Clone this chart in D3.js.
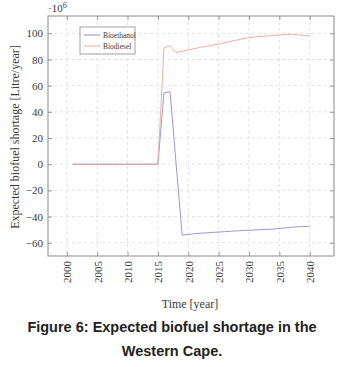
<!DOCTYPE html>
<html>
<head>
<meta charset="utf-8">
<script src="https://cdn.jsdelivr.net/npm/d3@7"></script>
<style>
  body { margin: 0; background: #fff; }
  svg text { fill: #3a3a3a; }
</style>
</head>
<body>
<svg id="chart"></svg>
<script>
var width = 338; // whole picture
var height = 367;
var margin = { top: 16, right: 4, bottom: 111, left: 48 };
var plotW = width - margin.left - margin.right;
var plotH = height - margin.top - margin.bottom;

// years of the series
var years = d3.range(2001, 2041);

// values in 10^6 litre/year
var bioethanol = [0, 0, 0, 0, 0, 0, 0, 0, 0, 0, 0, 0, 0, 0, 0,
  54.5, 55.3, 0, -54.2, -53.6, -53.1, -52.7, -52.4, -52.1, -51.8, -51.5,
  -51.2, -50.9, -50.6, -50.4, -50.2, -50.0, -49.8, -49.5, -49.1,
  -48.6, -48.1, -47.8, -47.6, -47.3];
var biodiesel = [0, 0, 0, 0, 0, 0, 0, 0, 0, 0, 0, 0, 0, 0, 0,
  88.8, 90.5, 85.2, 86.3, 87.3, 88.3, 89.2, 90.0, 90.9, 91.8, 92.8,
  93.8, 94.8, 95.8, 96.6, 97.2, 97.6, 98.0, 98.3, 98.7,
  99.1, 99.3, 98.9, 98.3, 97.8];

var xTicks = [2000, 2005, 2010, 2015, 2020, 2025, 2030, 2035, 2040];
var yTicks = [-60, -40, -20, 0, 20, 40, 60, 80, 100];

var series = [
  { name: "Bioethanol", values: bioethanol, color: "#8d8dd0" },
  { name: "Biodiesel", values: biodiesel, color: "#f2a497" }
];

var svg = d3.select("#chart")
  .attr("width", width)
  .attr("height", height);

var g = svg.append("g")
  .attr("transform", "translate(" + margin.left + "," + margin.top + ")");

var x = d3.scaleLinear().domain([1996.9, 2044.0]).range([0, plotW]);
var y = d3.scaleLinear().domain([-70.1, 113.2]).range([plotH, 0]);

// grid lines, dashed
g.append("g")
  .selectAll("line.vg")
  .data(xTicks)
  .enter().append("line")
  .attr("x1", d => x(d)).attr("x2", d => x(d))
  .attr("y1", 0).attr("y2", plotH)
  .attr("stroke", "#e2e2e2").attr("stroke-dasharray", "3 3");
g.append("g")
  .selectAll("line.hg")
  .data(yTicks)
  .enter().append("line")
  .attr("y1", d => y(d)).attr("y2", d => y(d))
  .attr("x1", 0).attr("x2", plotW)
  .attr("stroke", "#e2e2e2").attr("stroke-dasharray", "3 3");

// axes (ticks inward, pgfplots style)
var fontSerif = "'Liberation Serif', 'DejaVu Serif', serif";

var xAxis = g.append("g")
  .attr("transform", "translate(0," + plotH + ")")
  .call(d3.axisBottom(x).tickValues(xTicks).tickFormat(d3.format("d")).tickSize(-4).tickSizeOuter(0));
xAxis.selectAll("text")
  .attr("transform", "rotate(-90)")
  .attr("text-anchor", "end")
  .attr("x", -5).attr("y", 0).attr("dy", "0.35em")
  .style("font-family", fontSerif).style("font-size", "11px");

var yAxis = g.append("g")
  .call(d3.axisLeft(y).tickValues(yTicks).tickFormat(d => d < 0 ? "\u2212" + Math.abs(d) : d).tickSize(-4).tickSizeOuter(0));
yAxis.selectAll("text")
  .attr("x", -5)
  .style("font-family", fontSerif).style("font-size", "11px");

g.append("g")
  .attr("transform", "translate(" + plotW + ",0)")
  .call(d3.axisRight(y).tickValues(yTicks).tickFormat("").tickSize(-4).tickSizeOuter(0));
g.append("g")
  .call(d3.axisTop(x).tickValues(xTicks).tickFormat("").tickSize(-4).tickSizeOuter(0));

g.selectAll(".domain").attr("stroke", "none");
g.selectAll(".tick line").attr("stroke", "#9a9a9a");

// frame
g.append("rect")
  .attr("width", plotW).attr("height", plotH)
  .attr("fill", "none").attr("stroke", "#8a8a8a").attr("stroke-width", 1);

// the lines
var line = d3.line()
  .x((d, i) => x(years[i]))
  .y(d => y(d));

g.selectAll(".series")
  .data(series)
  .enter().append("path")
  .attr("class", "series")
  .attr("d", d => line(d.values))
  .attr("fill", "none")
  .attr("stroke", d => d.color)
  .attr("stroke-width", 0.9);

// legend
var legend = g.append("g").attr("transform", "translate(32,11)");
legend.append("rect")
  .attr("width", 55).attr("height", 27)
  .attr("fill", "#fff").attr("stroke", "#8a8a8a").attr("stroke-width", 0.8);
var li = legend.selectAll(".li")
  .data(series)
  .enter().append("g")
  .attr("transform", (d, i) => "translate(0," + (8 + i * 11) + ")");
li.append("line")
  .attr("x1", 4).attr("x2", 20)
  .attr("stroke", d => d.color).attr("stroke-width", 1);
li.append("text")
  .attr("x", 23).attr("dy", "0.35em")
  .style("font-family", fontSerif).style("font-size", "7.5px")
  .text(d => d.name);

// 10^6 multiplier
var mult = svg.append("text")
  .attr("x", 48).attr("y", 12)
  .style("font-family", fontSerif).style("font-size", "11px");
mult.append("tspan").text("\u00b710");
mult.append("tspan").attr("dy", -4).style("font-size", "8px").text("6");

// axis labels
svg.append("text")
  .attr("transform", "translate(15," + (margin.top + plotH / 2 + 1) + ") rotate(-90)")
  .attr("text-anchor", "middle")
  .attr("dy", "0.35em")
  .style("font-family", fontSerif).style("font-size", "12px")
  .text("Expected biofuel shortage [Litre/year]");

svg.append("text")
  .attr("x", 190).attr("y", 304)
  .attr("text-anchor", "middle")
  .attr("dy", "0.35em")
  .style("font-family", fontSerif).style("font-size", "12px")
  .text("Time [year]");

// caption
var captionLines = ["Figure 6: Expected biofuel shortage in the", "Western Cape."];
svg.selectAll(".cap")
  .data(captionLines)
  .enter().append("text")
  .attr("class", "cap")
  .attr("x", 172)
  .attr("y", (d, i) => 327 + i * 24)
  .attr("text-anchor", "middle")
  .attr("dy", "0.35em")
  .style("font-family", "'Liberation Sans', Arial, sans-serif")
  .style("font-weight", "bold").style("font-size", "14.5px")
  .style("fill", "#222")
  .text(d => d);
</script>
</body>
</html>
